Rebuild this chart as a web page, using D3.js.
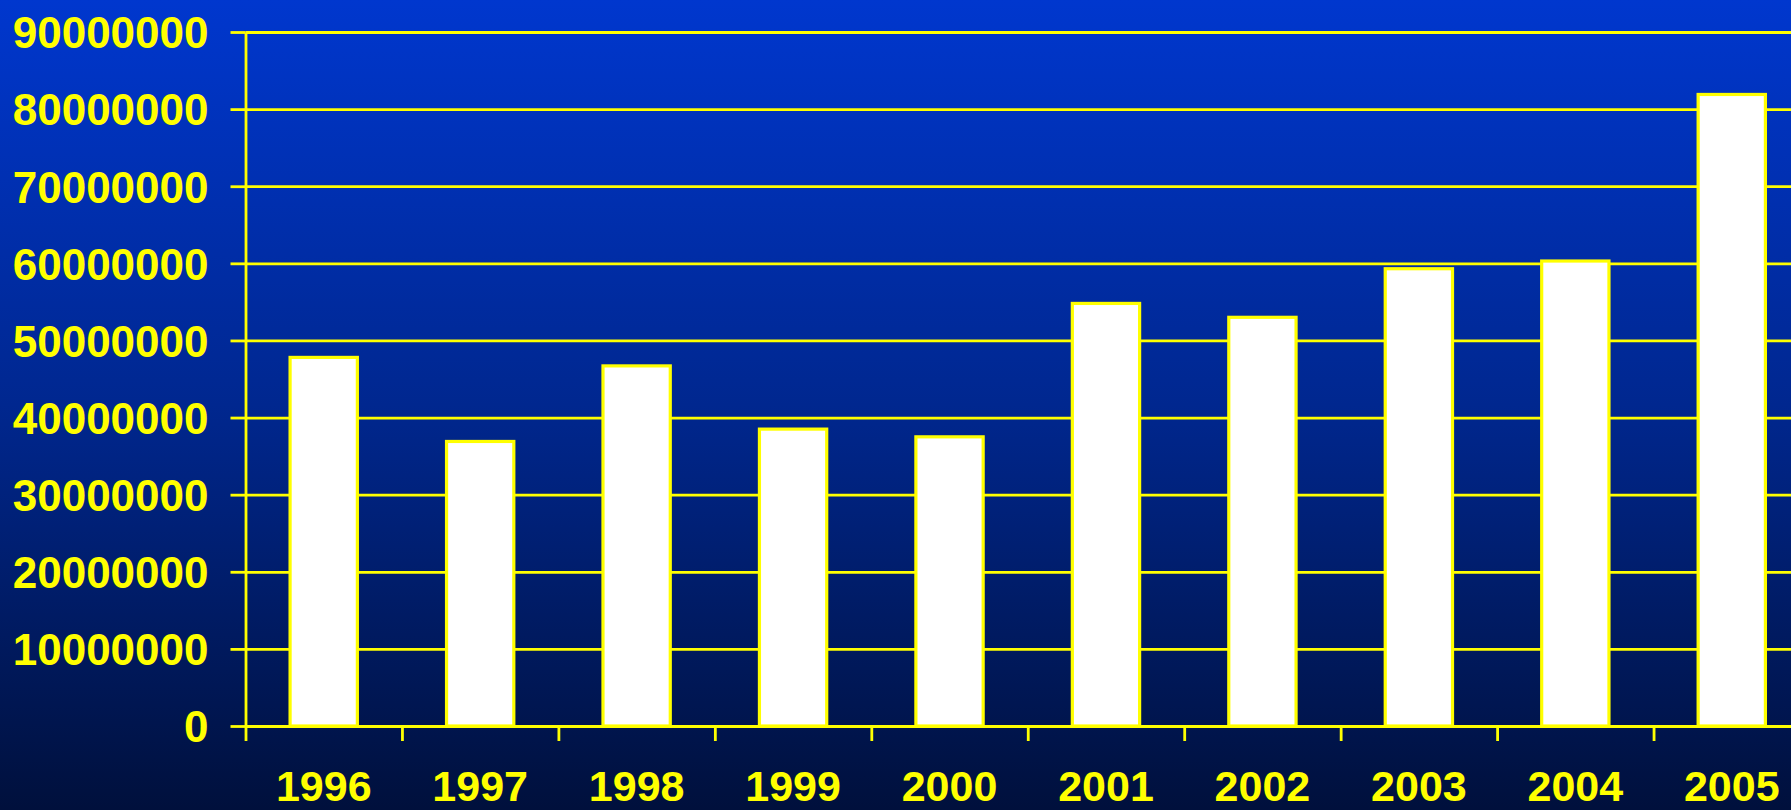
<!DOCTYPE html>
<html>
<head>
<meta charset="utf-8">
<script src="https://cdn.jsdelivr.net/npm/d3@7"></script>
<style>
  html, body { margin: 0; padding: 0; overflow: hidden; background: #00103c; }
  svg { display: block; }
</style>
</head>
<body>
<svg id="chart" width="1791" height="810"></svg>
<script>
// ---- data ----
const years = ["1996", "1997", "1998", "1999", "2000", "2001", "2002", "2003", "2004", "2005"];
const values = [47800000, 36900000, 46700000, 38500000, 37500000, 54800000, 53000000, 59300000, 60300000, 81900000];
const yTicks = [0, 10000000, 20000000, 30000000, 40000000, 50000000, 60000000, 70000000, 80000000, 90000000];

// ---- layout ----
const W = 1791, H = 810;
const plotLeft = 245.5, plotRight = 1810, plotTop = 32, plotBottom = 726;
const yellow = "#FFFF00";
const font = "'Liberation Sans', Arial, Helvetica, sans-serif";

const svg = d3.select("#chart");

// background gradient
const defs = svg.append("defs");
const grad = defs.append("linearGradient").attr("id", "bg").attr("x1", 0).attr("y1", 0).attr("x2", 0).attr("y2", 1);
grad.append("stop").attr("offset", "0%").attr("stop-color", "#0037ce");
grad.append("stop").attr("offset", "50%").attr("stop-color", "#00278f");
grad.append("stop").attr("offset", "100%").attr("stop-color", "#00103c");
svg.append("rect").attr("width", W).attr("height", H).attr("fill", "url(#bg)");

// scales
const x = d3.scaleBand().domain(years).range([plotLeft, plotRight]).paddingInner(0.57).paddingOuter(0.285);
const xEdge = d3.scaleLinear().domain([0, years.length]).range([plotLeft, plotRight]);
const y = d3.scaleLinear().domain([0, 90000000]).range([plotBottom, plotTop]);

// gridlines
const grid = svg.append("g")
  .attr("transform", `translate(${plotLeft},0)`)
  .call(d3.axisRight(y).tickValues(yTicks).tickSize(plotRight - plotLeft).tickFormat(""));
grid.select(".domain").remove();
grid.selectAll(".tick line").attr("stroke", yellow).attr("stroke-width", 2.8);

// y axis
const yAxis = svg.append("g")
  .attr("transform", `translate(${plotLeft},0)`)
  .call(d3.axisLeft(y).tickValues(yTicks).tickSize(15).tickSizeOuter(0).tickPadding(22).tickFormat(d3.format("d")));
yAxis.select(".domain").attr("stroke", yellow).attr("stroke-width", 2.8);
yAxis.selectAll(".tick line").attr("stroke", yellow).attr("stroke-width", 2.8);
yAxis.selectAll(".tick text")
  .attr("fill", yellow)
  .attr("font-family", font)
  .attr("font-weight", "bold")
  .attr("font-size", 44)
  .attr("dy", "0.36em");

// bars
svg.append("g").selectAll("rect")
  .data(values)
  .join("rect")
  .attr("x", (d, i) => x(years[i]))
  .attr("y", d => y(d))
  .attr("width", x.bandwidth())
  .attr("height", d => y(0) - y(d))
  .attr("fill", "#ffffff")
  .attr("stroke", yellow)
  .attr("stroke-width", 3.2);

// x axis line + ticks at category boundaries
const xAxis = svg.append("g")
  .attr("transform", `translate(0,${plotBottom})`)
  .call(d3.axisBottom(xEdge).tickValues(d3.range(0, years.length + 1)).tickSize(15).tickSizeOuter(0).tickFormat(""));
xAxis.select(".domain").attr("stroke", yellow).attr("stroke-width", 2.8);
xAxis.selectAll(".tick line").attr("stroke", yellow).attr("stroke-width", 2.8);

// x labels at category centers
const xLab = svg.append("g")
  .attr("transform", `translate(0,${plotBottom})`)
  .call(d3.axisBottom(x).tickSize(0));
xLab.select(".domain").remove();
xLab.selectAll(".tick text")
  .attr("fill", yellow)
  .attr("font-family", font)
  .attr("font-weight", "bold")
  .attr("font-size", 43)
  .attr("y", 75)
  .attr("dy", 0);
</script>
</body>
</html>
